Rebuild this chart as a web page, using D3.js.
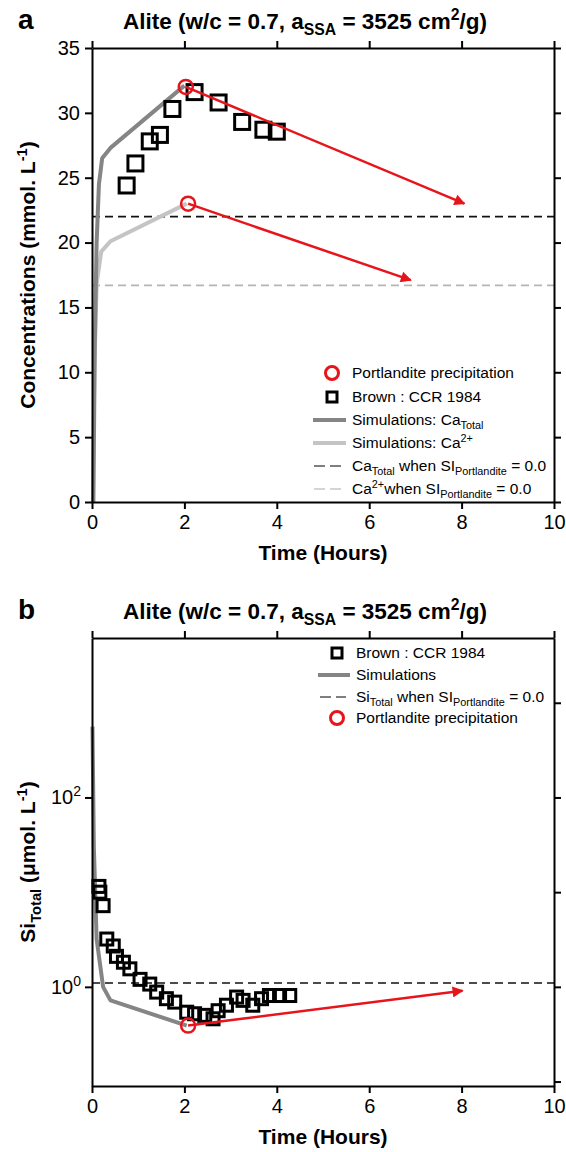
<!DOCTYPE html>
<html><head><meta charset="utf-8">
<script src="https://cdn.jsdelivr.net/npm/d3@7"></script>
<style>
body{margin:0;background:#fff;}
svg text{font-family:"Liberation Sans",Arial,sans-serif;fill:#000;}
</style></head><body>
<svg id="fig" width="566" height="1152"></svg>
<script>
// ---- panel a : calcium ----
var brownCaT = [0.75,0.94,1.25,1.47,1.74,2.22,2.74,3.25,3.71,4.0];
var brownCaV = [24.4,26.1,27.8,28.3,30.3,31.6,30.8,29.3,28.7,28.55];
var simCaTotT = [0.03,0.06,0.1,0.15,0.22,0.4,2.0];
var simCaTotV = [0,12,20,24.5,26.5,27.3,32.1];
var simCa2T = [0.02,0.05,0.1,0.2,0.4,2.05];
var simCa2V = [0,10,16.8,19.3,20.1,23];
var caTotSat = 22.0, ca2Sat = 16.7;
var precipAT = [2.03,2.08], precipAV = [32.0,23.0];
var arrowAT = [8.06,6.9], arrowAV = [23.0,17.1];
var xTicks = [0,2,4,6,8,10];
var yTicksA = [0,5,10,15,20,25,30,35];

// ---- panel b : silicon ----
var brownSiT = [0.15,0.17,0.24,0.32,0.46,0.53,0.68,0.82,1.04,1.25,1.40,1.61,1.79,2.05,2.22,2.44,2.62,2.73,2.91,3.13,3.27,3.48,3.67,3.84,4.06,4.28];
var brownSiV = [11.5,10,7.2,3.2,2.7,2.1,1.82,1.55,1.2,1.07,0.88,0.75,0.69,0.54,0.52,0.50,0.46,0.56,0.64,0.78,0.72,0.64,0.75,0.81,0.81,0.81];
var simSiT = [0.01,0.04,0.1,0.24,0.4,2.05];
var simSiV = [560,30,3.2,1.0,0.72,0.39];
var siSat = 1.1;
var precipBT = [2.08], precipBV = [0.39];
var arrowBT = [8.02], arrowBV = [0.91];
var yTicksBLabel = [1,100], yTicksBLabelExp = ["0","2"];
var yTicksBRight = [0.1,1,10,100,1000];

var svg = d3.select("#fig");
var darkGray = "#858585", lightGray = "#c4c4c4", red = "#e8141b";

svg.append("defs").append("marker")
  .attr("id","arr").attr("markerUnits","userSpaceOnUse")
  .attr("viewBox","0 -5 10 10").attr("refX",9).attr("refY",0)
  .attr("markerWidth",12).attr("markerHeight",11).attr("orient","auto")
  .append("path").attr("d","M0,-5L10,0L0,5Z").attr("fill",red);

// text with sub / superscripts
function rich(g, x, y, parts, size, weight, anchor) {
  var t = g.append("text").attr("x",x).attr("y",y)
    .style("font-size",size+"px").style("font-weight",weight||"normal")
    .attr("text-anchor",anchor||"start");
  var shift = 0;
  parts.forEach(function(p){
    var target = p[1]=="sub" ? size*0.28 : p[1]=="sup" ? -size*0.4 : 0;
    var s = t.append("tspan").text(p[0]).attr("dy", target-shift);
    shift = target;
    if (p[1]) s.style("font-size",(size*0.7)+"px");
  });
  return t;
}

function styleAxis(g, fs) {
  g.select(".domain").attr("stroke","#000").attr("stroke-width",2);
  g.selectAll(".tick line").attr("stroke","#000").attr("stroke-width",2);
  g.selectAll(".tick text").style("font-size",fs+"px").attr("font-family",null)
    .style("font-family","'Liberation Sans',Arial,sans-serif");
  g.attr("font-family",null);
}

function frame(x, y, L, R, T, B, leftAxis, rightAxis) {
  var gb = svg.append("g").attr("transform","translate(0,"+B+")")
    .call(d3.axisBottom(x).tickValues(xTicks).tickSize(7).tickSizeOuter(0).tickPadding(6));
  styleAxis(gb, 20);
  var gt = svg.append("g").attr("transform","translate(0,"+T+")")
    .call(d3.axisTop(x).tickValues(xTicks).tickSize(7).tickSizeOuter(0).tickFormat(""));
  styleAxis(gt, 20);
  var gl = svg.append("g").attr("transform","translate("+L+",0)").call(leftAxis);
  styleAxis(gl, 20);
  var gr = svg.append("g").attr("transform","translate("+R+",0)").call(rightAxis);
  styleAxis(gr, 20);
}

function lineOf(x, y, ts, vs) {
  return d3.line().x(function(i){return x(ts[i]);}).y(function(i){return y(vs[i]);})(d3.range(ts.length));
}

function squares(g, x, y, ts, vs, s) {
  g.selectAll(null).data(d3.range(ts.length)).enter().append("rect")
    .attr("x",function(i){return x(ts[i])-s/2;}).attr("y",function(i){return y(vs[i])-s/2;})
    .attr("width",s).attr("height",s).attr("fill","none").attr("stroke","#000").attr("stroke-width",3);
}

function precipArrows(g, x, y, t0, v0, t1, v1) {
  d3.range(t0.length).forEach(function(i){
    g.append("line").attr("x1",x(t0[i])).attr("y1",y(v0[i])).attr("x2",x(t1[i])).attr("y2",y(v1[i]))
      .attr("stroke",red).attr("stroke-width",2.5).attr("marker-end","url(#arr)");
  });
  g.selectAll(null).data(d3.range(t0.length)).enter().append("circle")
    .attr("cx",function(i){return x(t0[i]);}).attr("cy",function(i){return y(v0[i]);})
    .attr("r",7).attr("fill","none").attr("stroke",red).attr("stroke-width",2.5);
}

// ================= panel a =================
var L = 92, R = 554;
var xA = d3.scaleLinear().domain([0,10]).range([L,R]);
var yA = d3.scaleLinear().domain([0,35]).range([502,48]);
var ga = svg.append("g");

ga.append("line").attr("x1",xA(0)).attr("x2",xA(10)).attr("y1",yA(caTotSat)).attr("y2",yA(caTotSat))
  .attr("stroke","#111").attr("stroke-width",1.6).attr("stroke-dasharray","8,5");
ga.append("line").attr("x1",xA(0)).attr("x2",xA(10)).attr("y1",yA(ca2Sat)).attr("y2",yA(ca2Sat))
  .attr("stroke","#b5b5b5").attr("stroke-width",1.6).attr("stroke-dasharray","8,5");
ga.append("path").attr("d",lineOf(xA,yA,simCa2T,simCa2V)).attr("fill","none")
  .attr("stroke",lightGray).attr("stroke-width",4).attr("stroke-linejoin","round");
ga.append("path").attr("d",lineOf(xA,yA,simCaTotT,simCaTotV)).attr("fill","none")
  .attr("stroke",darkGray).attr("stroke-width",4).attr("stroke-linejoin","round");
squares(ga, xA, yA, brownCaT, brownCaV, 15);
precipArrows(ga, xA, yA, precipAT, precipAV, arrowAT, arrowAV);

frame(xA, yA, L, R, 48, 502,
  d3.axisLeft(yA).tickValues(yTicksA).tickSize(7).tickSizeOuter(0).tickPadding(5),
  d3.axisRight(yA).tickValues(yTicksA).tickSize(7).tickSizeOuter(0).tickFormat(""));

svg.append("text").attr("x",18).attr("y",29).style("font-size","28px").style("font-weight","bold").text("a");
rich(svg, 305, 29, [["Alite (w/c = 0.7, a"],["SSA","sub"],[" = 3525 cm"],["2","sup"],["/g)"]], 22.5, "bold", "middle");
rich(svg, (L+R)/2, 560, [["Time (Hours)"]], 21, "bold", "middle");
rich(svg.append("g").attr("transform","translate(35,275) rotate(-90)"), 0, 0,
  [["Concentrations (mmol. L"],["-1","sup"],[")"]], 21, "bold", "middle");

// legend a
var lgA = svg.append("g");
var lgAy = [373,397,420,443,466,489];
lgA.append("circle").attr("cx",332).attr("cy",lgAy[0]).attr("r",6.5).attr("fill","none").attr("stroke",red).attr("stroke-width",3);
lgA.append("rect").attr("x",327).attr("y",lgAy[1]-5).attr("width",10).attr("height",10).attr("fill","none").attr("stroke","#000").attr("stroke-width",3);
lgA.append("line").attr("x1",313).attr("x2",346).attr("y1",lgAy[2]).attr("y2",lgAy[2]).attr("stroke",darkGray).attr("stroke-width",4);
lgA.append("line").attr("x1",313).attr("x2",346).attr("y1",lgAy[3]).attr("y2",lgAy[3]).attr("stroke",lightGray).attr("stroke-width",4);
lgA.append("line").attr("x1",314).attr("x2",341).attr("y1",lgAy[4]).attr("y2",lgAy[4]).attr("stroke","#555").attr("stroke-width",1.4).attr("stroke-dasharray","11,5");
lgA.append("line").attr("x1",314).attr("x2",341).attr("y1",lgAy[5]).attr("y2",lgAy[5]).attr("stroke","#c8c8c8").attr("stroke-width",1.4).attr("stroke-dasharray","11,5");
var lgAx = 352, lfs = 15.5;
rich(lgA, lgAx, lgAy[0]+5, [["Portlandite precipitation"]], lfs);
rich(lgA, lgAx, lgAy[1]+5, [["Brown : CCR 1984"]], lfs);
rich(lgA, lgAx, lgAy[2]+5, [["Simulations: Ca"],["Total","sub"]], lfs);
rich(lgA, lgAx, lgAy[3]+5, [["Simulations: Ca"],["2+","sup"]], lfs);
rich(lgA, lgAx, lgAy[4]+5, [["Ca"],["Total","sub"],[" when SI"],["Portlandite","sub"],[" = 0.0"]], lfs);
rich(lgA, lgAx, lgAy[5]+5, [["Ca"],["2+","sup"],["when SI"],["Portlandite","sub"],[" = 0.0"]], lfs);

// ================= panel b =================
var TB = 638, BB = 1086;
var xB = d3.scaleLinear().domain([0,10]).range([L,R]);
var yB = d3.scaleLog().domain([Math.pow(10,-1.047), Math.pow(10,3.684)]).range([BB,TB]);
var gbp = svg.append("g");
gbp.append("line").attr("x1",xB(0)).attr("x2",xB(10)).attr("y1",yB(siSat)).attr("y2",yB(siSat))
  .attr("stroke","#111").attr("stroke-width",1.6).attr("stroke-dasharray","8,5");
gbp.append("path").attr("d",lineOf(xB,yB,simSiT,simSiV)).attr("fill","none")
  .attr("stroke",darkGray).attr("stroke-width",4).attr("stroke-linejoin","round");
squares(gbp, xB, yB, brownSiT, brownSiV, 12);
precipArrows(gbp, xB, yB, precipBT, precipBV, arrowBT, arrowBV);

frame(xB, yB, L, R, TB, BB,
  d3.axisLeft(yB).tickValues(yTicksBLabel).tickSize(7).tickSizeOuter(0).tickFormat(""),
  d3.axisRight(yB).tickValues(yTicksBRight).tickSize(7).tickSizeOuter(0).tickFormat(""));
yTicksBLabel.forEach(function(v,i){
  rich(svg, L-11, yB(v)+7, [["10"],[yTicksBLabelExp[i],"sup"]], 20, "normal", "end");
});

svg.append("text").attr("x",18).attr("y",619).style("font-size","28px").style("font-weight","bold").text("b");
rich(svg, 305, 619, [["Alite (w/c = 0.7, a"],["SSA","sub"],[" = 3525 cm"],["2","sup"],["/g)"]], 22.5, "bold", "middle");
rich(svg, (L+R)/2, 1144, [["Time (Hours)"]], 21, "bold", "middle");
rich(svg.append("g").attr("transform","translate(35,862) rotate(-90)"), 0, 0,
  [["Si"],["Total","sub"],[" (\u03bcmol. L"],["-1","sup"],[")"]], 21, "bold", "middle");

// legend b
var lgB = svg.append("g");
var lgBy = [653,675,697,718];
lgB.append("rect").attr("x",332).attr("y",lgBy[0]-5).attr("width",10).attr("height",10).attr("fill","none").attr("stroke","#000").attr("stroke-width",3);
lgB.append("line").attr("x1",318).attr("x2",350).attr("y1",lgBy[1]).attr("y2",lgBy[1]).attr("stroke",darkGray).attr("stroke-width",4);
lgB.append("line").attr("x1",320).attr("x2",346).attr("y1",lgBy[2]).attr("y2",lgBy[2]).attr("stroke","#555").attr("stroke-width",1.4).attr("stroke-dasharray","11,5");
lgB.append("circle").attr("cx",337).attr("cy",lgBy[3]).attr("r",6.5).attr("fill","none").attr("stroke",red).attr("stroke-width",3);
var lgBx = 356;
rich(lgB, lgBx, lgBy[0]+5, [["Brown : CCR 1984"]], lfs);
rich(lgB, lgBx, lgBy[1]+5, [["Simulations"]], lfs);
rich(lgB, lgBx, lgBy[2]+5, [["Si"],["Total","sub"],[" when SI"],["Portlandite","sub"],[" = 0.0"]], lfs);
rich(lgB, lgBx, lgBy[3]+5, [["Portlandite precipitation"]], lfs);
</script>
</body></html>
